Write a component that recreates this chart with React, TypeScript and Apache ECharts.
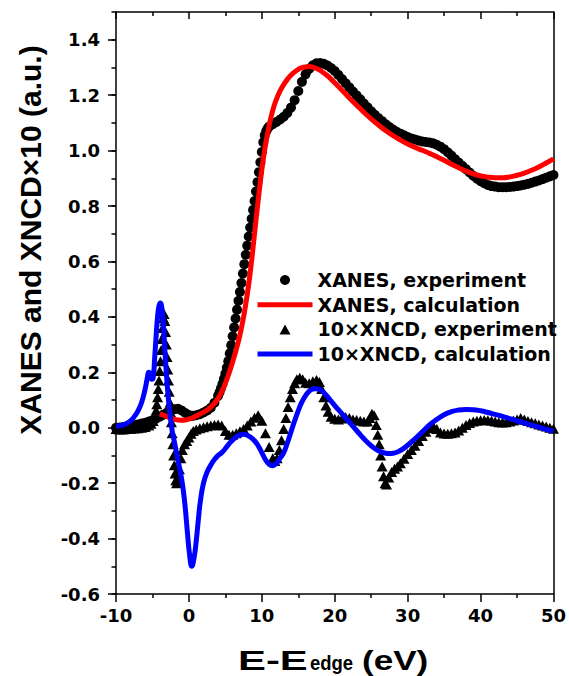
import React, { useEffect, useRef } from 'react';
import * as echarts from 'echarts';

const xanesExp: [number, number][] = [
  [-10, 0.0], [-9.5, 0.001], [-9, 0.003], [-8.5, 0.005], [-8, 0.007], [-7.5, 0.009], [-7, 0.012], [-6.5, 0.015],
  [-6, 0.018], [-5.5, 0.022], [-5, 0.027], [-4.5, 0.033], [-4, 0.04], [-3.5, 0.047], [-3, 0.055], [-2.5, 0.062],
  [-2, 0.067], [-1.5, 0.068], [-1, 0.062], [-0.5, 0.053], [0, 0.046], [0.5, 0.043], [1, 0.045], [1.5, 0.049],
  [2, 0.055], [2.5, 0.062], [3, 0.072], [3.5, 0.09],
  [4, 0.115], [4.2, 0.128], [4.4, 0.142], [4.6, 0.158], [4.8, 0.176], [5, 0.195], [5.2, 0.216], [5.4, 0.24],
  [5.6, 0.268], [5.8, 0.298], [6, 0.33], [6.2, 0.362], [6.4, 0.394], [6.6, 0.426], [6.8, 0.458], [7, 0.49],
  [7.2, 0.522], [7.4, 0.556], [7.6, 0.59], [7.8, 0.624], [8, 0.657], [8.2, 0.69], [8.4, 0.722], [8.6, 0.754],
  [8.8, 0.786], [9, 0.818], [9.2, 0.852], [9.4, 0.886], [9.6, 0.922], [9.8, 0.958], [10, 0.995], [10.2, 1.03],
  [10.4, 1.055], [10.6, 1.07], [10.8, 1.08], [11, 1.087],
  [11.5, 1.095], [12, 1.103], [12.5, 1.112], [13, 1.122], [13.5, 1.136], [14, 1.155], [14.5, 1.182], [15, 1.215],
  [15.5, 1.248], [16, 1.275], [16.5, 1.295], [17, 1.308], [17.5, 1.315], [18, 1.316], [18.5, 1.313], [19, 1.307],
  [19.5, 1.298], [20, 1.287], [20.5, 1.273], [21, 1.258], [21.5, 1.243], [22, 1.228], [22.5, 1.213], [23, 1.199],
  [23.5, 1.185], [24, 1.17], [24.5, 1.156], [25, 1.142], [25.5, 1.129], [26, 1.117], [26.5, 1.106], [27, 1.095],
  [27.5, 1.085], [28, 1.076], [28.5, 1.068], [29, 1.061], [29.5, 1.055], [30, 1.049], [30.5, 1.044], [31, 1.04],
  [31.5, 1.036], [32, 1.033], [32.5, 1.031], [33, 1.029], [33.5, 1.026], [34, 1.021], [34.5, 1.014], [35, 1.005],
  [35.5, 0.994], [36, 0.982], [36.5, 0.969], [37, 0.957], [37.5, 0.945], [38, 0.933], [38.5, 0.921], [39, 0.909],
  [39.5, 0.899], [40, 0.89], [40.5, 0.882], [41, 0.876], [41.5, 0.872], [42, 0.87], [42.5, 0.868], [43, 0.868],
  [43.5, 0.868], [44, 0.869], [44.5, 0.87], [45, 0.872], [45.5, 0.874], [46, 0.877], [46.5, 0.88], [47, 0.884],
  [47.5, 0.888], [48, 0.892], [48.5, 0.897], [49, 0.902], [49.5, 0.907], [50, 0.912],
];

const xanesCalc: [number, number][] = [
  [-4, 0.05], [-3.5, 0.045], [-3, 0.04], [-2.5, 0.035], [-2, 0.03], [-1.5, 0.028], [-1, 0.027], [-0.5, 0.028],
  [0, 0.031], [0.5, 0.036], [1, 0.042], [1.5, 0.049], [2, 0.056], [2.5, 0.064], [3, 0.074], [3.5, 0.088],
  [4, 0.106], [4.5, 0.13], [5, 0.16], [5.5, 0.197], [6, 0.238], [6.5, 0.283], [7, 0.335], [7.5, 0.4],
  [8, 0.48], [8.5, 0.58], [9, 0.7], [9.5, 0.82], [10, 0.93], [10.5, 1.02], [11, 1.09], [11.5, 1.145],
  [12, 1.185], [12.5, 1.215], [13, 1.238], [13.5, 1.257], [14, 1.272], [14.5, 1.284], [15, 1.293], [15.5, 1.299],
  [16, 1.302], [16.5, 1.303], [17, 1.301], [17.5, 1.296], [18, 1.289], [18.5, 1.28], [19, 1.27], [19.5, 1.258],
  [20, 1.245], [21, 1.218], [22, 1.19], [23, 1.164], [24, 1.138], [25, 1.114], [26, 1.092], [27, 1.072],
  [28, 1.054], [29, 1.038], [30, 1.024], [31, 1.012], [32, 1.001], [33, 0.99], [34, 0.978], [35, 0.965],
  [36, 0.951], [37, 0.938], [38, 0.926], [39, 0.916], [40, 0.909], [41, 0.904], [42, 0.902], [43, 0.902],
  [44, 0.905], [45, 0.911], [46, 0.919], [47, 0.929], [48, 0.941], [49, 0.955], [50, 0.97],
];

const xncdExp: [number, number][] = [
  [-10, -0.005], [-9.5, -0.006], [-9, -0.006], [-8.5, -0.005], [-8, -0.004], [-7.5, -0.003], [-7, -0.002],
  [-6.5, 0.0], [-6, 0.003], [-5.5, 0.008], [-5.2, 0.014], [-4.9, 0.024], [-4.7, 0.04], [-4.5, 0.062],
  [-4.4, 0.085], [-4.3, 0.11], [-4.2, 0.14], [-4.1, 0.17], [-4.0, 0.205], [-3.9, 0.24], [-3.8, 0.28],
  [-3.7, 0.32], [-3.6, 0.36], [-3.5, 0.395], [-3.4, 0.41], [-3.3, 0.385], [-3.2, 0.345], [-3.1, 0.3],
  [-3.0, 0.255], [-2.9, 0.21], [-2.8, 0.17], [-2.7, 0.13], [-2.6, 0.09], [-2.5, 0.055], [-2.4, 0.02],
  [-2.3, -0.02], [-2.2, -0.06], [-2.1, -0.1], [-2.0, -0.135], [-1.9, -0.165], [-1.8, -0.19], [-1.7, -0.2],
  [-1.5, -0.185], [-1.3, -0.15], [-1.1, -0.11], [-0.9, -0.08], [-0.6, -0.06], [-0.3, -0.048], [0, -0.035],
  [0.3, -0.022], [0.6, -0.012], [1, -0.006], [1.5, -0.002], [2, 0.002], [2.5, 0.005], [3, 0.008], [3.5, 0.01],
  [4, 0.012], [4.5, 0.008], [5, -0.012], [5.5, -0.025], [6, -0.025], [6.5, -0.02], [7, -0.013], [7.5, -0.005],
  [8, 0.008], [8.5, 0.022], [9, 0.036], [9.5, 0.045], [10, 0.025], [10.5, -0.02], [11, -0.07], [11.5, -0.11],
  [11.8, -0.12], [12.1, -0.11], [12.4, -0.08], [12.7, -0.045], [13, -0.005], [13.3, 0.035], [13.6, 0.075],
  [13.9, 0.11], [14.2, 0.14], [14.5, 0.16], [14.8, 0.175], [15.2, 0.18], [15.6, 0.175], [16, 0.162],
  [16.5, 0.16], [17, 0.168], [17.5, 0.172], [17.9, 0.165], [18.2, 0.14], [18.5, 0.11], [18.8, 0.08],
  [19.1, 0.058], [19.5, 0.04], [20, 0.032], [20.5, 0.03], [21, 0.033], [21.5, 0.038], [22, 0.035],
  [22.5, 0.03], [23, 0.028], [23.5, 0.025], [24, 0.022], [24.5, 0.022], [24.8, 0.035], [25.1, 0.05],
  [25.4, 0.045], [25.7, 0.01], [25.9, -0.025], [26.1, -0.06], [26.3, -0.1], [26.5, -0.14], [26.7, -0.175],
  [26.9, -0.2], [27.1, -0.205], [27.4, -0.18], [27.8, -0.16], [28.2, -0.148], [28.6, -0.14], [29, -0.128],
  [29.5, -0.112], [30, -0.095], [30.5, -0.08], [31, -0.065], [31.5, -0.048], [32, -0.03], [32.5, -0.015],
  [33, -0.002], [33.5, 0.006], [34, -0.005], [34.5, -0.017], [35, -0.021], [35.5, -0.022], [36, -0.02],
  [36.5, -0.017], [37, -0.01], [37.5, 0.0], [38, 0.01], [38.5, 0.017], [39, 0.022], [39.5, 0.025],
  [40, 0.027], [40.5, 0.028], [41, 0.027], [41.5, 0.025], [42, 0.022], [42.5, 0.02], [43, 0.019],
  [43.5, 0.02], [44, 0.022], [44.5, 0.026], [45, 0.03], [45.5, 0.035], [46, 0.03], [46.5, 0.024],
  [47, 0.02], [47.5, 0.016], [48, 0.012], [48.5, 0.008], [49, 0.004], [49.5, 0.0], [50, -0.004],
];

const xncdCalc: [number, number][] = [
  [-10, 0.005], [-9, 0.01], [-8, 0.025], [-7.5, 0.04], [-7, 0.06], [-6.5, 0.09], [-6, 0.14], [-5.7, 0.18],
  [-5.5, 0.2], [-5.3, 0.195], [-5.1, 0.175], [-4.9, 0.18], [-4.7, 0.25], [-4.5, 0.33], [-4.3, 0.4],
  [-4.1, 0.44], [-3.9, 0.45], [-3.7, 0.43], [-3.5, 0.37], [-3.3, 0.28], [-3.1, 0.2], [-2.9, 0.13],
  [-2.6, 0.05], [-2.3, -0.01], [-2.0, -0.05], [-1.7, -0.09], [-1.4, -0.13], [-1.1, -0.17], [-0.8, -0.22],
  [-0.5, -0.29], [-0.2, -0.38], [0.1, -0.46], [0.4, -0.5], [0.7, -0.47], [1.0, -0.41], [1.3, -0.33],
  [1.6, -0.26], [2.0, -0.2], [2.5, -0.16], [3.0, -0.135], [3.5, -0.115], [4, -0.1], [4.5, -0.09],
  [5, -0.075], [5.5, -0.058], [6, -0.045], [6.5, -0.033], [7, -0.026], [7.5, -0.024], [8, -0.027],
  [8.5, -0.035], [9, -0.047], [9.5, -0.065], [10, -0.09], [10.5, -0.115], [11, -0.132], [11.5, -0.137],
  [12, -0.128], [12.5, -0.11], [13, -0.09], [13.5, -0.055], [14, -0.015], [14.5, 0.025], [15, 0.062],
  [15.5, 0.093], [16, 0.116], [16.5, 0.132], [17, 0.14], [17.5, 0.141], [18, 0.137], [18.5, 0.127],
  [19, 0.112], [19.5, 0.096], [20, 0.08], [21, 0.05], [22, 0.02], [23, -0.01], [24, -0.04], [25, -0.065],
  [26, -0.083], [27, -0.092], [27.5, -0.093], [28, -0.092], [29, -0.082], [30, -0.063], [31, -0.04],
  [32, -0.015], [33, 0.01], [34, 0.03], [35, 0.047], [36, 0.058], [37, 0.064], [38, 0.066], [39, 0.065],
  [40, 0.061], [41, 0.055], [42, 0.048], [43, 0.041], [44, 0.033], [45, 0.025], [46, 0.017], [47, 0.009],
  [48, 0.002], [49, -0.006], [50, -0.013],
];

const yTickValues = [-0.6, -0.4, -0.2, 0, 0.2, 0.4, 0.6, 0.8, 1.0, 1.2, 1.4];
const seriesNames = ['XANES, experiment', 'XANES, calculation', '10×XNCD, experiment', '10×XNCD, calculation'];
// triangle icon centred in a 55x10 box (degenerate end points fix the bounding box)
const triangleLegendIcon = 'path://M0,10L0.01,10M22,10L27.5,0L33,10ZM55,10L54.99,10';

export default function App() {
  const ref = useRef<HTMLDivElement>(null);
  useEffect(() => {
    const chart = echarts.init(ref.current!, null, { renderer: 'svg' });
    const tickFont = { fontFamily: 'DejaVu Sans', fontWeight: 'bold' as const, fontSize: 18, color: '#000' };
    const axisLine = { show: true, onZero: false, lineStyle: { color: '#000', width: 1.5 } };
    const titleFont = '"Liberation Sans", Arial, sans-serif';
    chart.setOption({
      animation: false,
      backgroundColor: '#fff',
      grid: { left: 116, right: 15, top: 12, bottom: 82 },
      legend: {
        left: 255, top: 270, padding: 0, orient: 'vertical',
        itemWidth: 55, itemHeight: 10, itemGap: 4.7, itemTextGap: 2,
        symbolKeepAspect: true,
        lineStyle: { width: 'inherit' },
        textStyle: { fontFamily: 'DejaVu Sans', fontWeight: 'bold', fontSize: 19, color: '#000', lineHeight: 20 },
        data: [
          { name: seriesNames[0] },
          { name: seriesNames[1], itemStyle: { opacity: 0 } },
          { name: seriesNames[2], icon: triangleLegendIcon },
          { name: seriesNames[3], itemStyle: { opacity: 0 } },
        ],
      },
      xAxis: [
        {
          type: 'value', position: 'bottom', min: -10, max: 50, interval: 10,
          axisLine,
          axisTick: { show: true, inside: false, length: 8, lineStyle: { color: '#000', width: 1.5 } },
          minorTick: { show: true, splitNumber: 2, length: 4, lineStyle: { color: '#000', width: 1.5 } },
          axisLabel: { ...tickFont, margin: 12 },
          splitLine: { show: false },
        },
        {
          type: 'value', position: 'top', min: -10, max: 50, interval: 10,
          axisLine,
          axisTick: { show: true, inside: true, length: 7, lineStyle: { color: '#000', width: 1.5 } },
          minorTick: { show: true, splitNumber: 2, length: 4, lineStyle: { color: '#000', width: 1.5 } },
          axisLabel: { show: false },
          splitLine: { show: false },
        },
      ],
      yAxis: [
        {
          type: 'value', position: 'left', min: -0.6, max: 1.5, interval: 0.2,
          axisLine,
          axisTick: { show: true, inside: false, length: 8, customValues: yTickValues, lineStyle: { color: '#000', width: 1.5 } },
          axisLabel: { ...tickFont, margin: 16, customValues: yTickValues, formatter: (v: number) => v.toFixed(1) },
          splitLine: { show: false },
        },
        {
          type: 'value', position: 'right', min: -0.6, max: 1.5, interval: 0.1,
          axisLine,
          axisTick: { show: false },
          axisLabel: { show: false },
          splitLine: { show: false },
        },
        {
          type: 'value', position: 'left', offset: 0, min: -0.6, max: 1.5, interval: 0.1,
          axisLine: { show: false, onZero: false },
          axisTick: { show: true, inside: false, length: 4.5, lineStyle: { color: '#000', width: 1.5 } },
          axisLabel: { show: false },
          splitLine: { show: false },
        },
      ],
      series: [
        {
          name: seriesNames[0], type: 'scatter', xAxisIndex: 0, yAxisIndex: 0, data: xanesExp,
          symbol: 'circle', symbolSize: 10, itemStyle: { color: '#000', opacity: 1 }, z: 2,
        },
        {
          name: seriesNames[2], type: 'scatter', xAxisIndex: 0, yAxisIndex: 0, data: xncdExp,
          symbol: 'triangle', symbolSize: [11, 10], itemStyle: { color: '#000', opacity: 1 }, z: 2,
        },
        {
          name: seriesNames[1], type: 'line', xAxisIndex: 0, yAxisIndex: 0, data: xanesCalc,
          symbol: 'none', smooth: true, lineStyle: { color: '#ff0000', width: 5 }, itemStyle: { color: '#ff0000' }, z: 3,
        },
        {
          name: seriesNames[3], type: 'line', xAxisIndex: 0, yAxisIndex: 0, data: xncdCalc,
          symbol: 'none', smooth: true, lineStyle: { color: '#0000ff', width: 5 }, itemStyle: { color: '#0000ff' }, z: 4,
        },
      ],
      graphic: [
        {
          type: 'text', x: 30, y: 240, rotation: Math.PI / 2,
          style: {
            text: 'XANES and XNCD×10 (a.u.)', font: `bold 30px ${titleFont}`, fill: '#000',
            align: 'center', verticalAlign: 'middle', textAlign: 'center', textVerticalAlign: 'middle',
          },
        },
        {
          type: 'text', x: 238, y: 660.6, scaleX: 1.55,
          style: { text: 'E-E', font: `bold 27px ${titleFont}`, fill: '#000', align: 'left', verticalAlign: 'middle', textAlign: 'left', textVerticalAlign: 'middle' },
        },
        {
          type: 'text', x: 310, y: 662.7, scaleX: 0.88,
          style: { text: 'edge', font: `bold 21px ${titleFont}`, fill: '#000', align: 'left', verticalAlign: 'middle', textAlign: 'left', textVerticalAlign: 'middle' },
        },
        {
          type: 'text', x: 362, y: 660.6, scaleX: 1.3,
          style: { text: '(eV)', font: `bold 27px ${titleFont}`, fill: '#000', align: 'left', verticalAlign: 'middle', textAlign: 'left', textVerticalAlign: 'middle' },
        },
      ],
    });
    return () => chart.dispose();
  }, []);
  return (
    <div
      ref={ref}
      style={{ position: 'fixed', left: 0, top: 0, width: 569, height: 676, background: '#fff' }}
    />
  );
}
